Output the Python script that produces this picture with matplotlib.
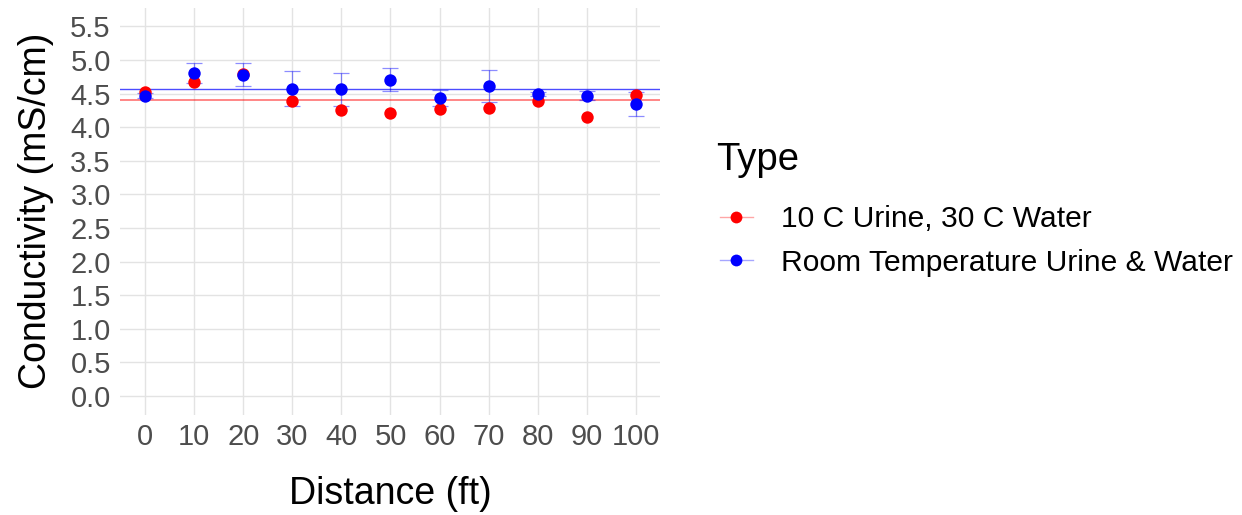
import numpy as np
import matplotlib
matplotlib.use("Agg")
import matplotlib.pyplot as plt
from matplotlib.lines import Line2D

plt.rcParams['font.family'] = ['Liberation Sans', 'DejaVu Sans']

# data
distance = [0, 10, 20, 30, 40, 50, 60, 70, 80, 90, 100]
cold_urine = [4.52, 4.68, 4.80, 4.395, 4.25, 4.21, 4.275, 4.285, 4.385, 4.15, 4.485]
room_temp = [4.47, 4.81, 4.785, 4.575, 4.565, 4.71, 4.44, 4.615, 4.49, 4.47, 4.35]
room_temp_err = [0.04, 0.15, 0.165, 0.26, 0.245, 0.17, 0.12, 0.24, 0.03, 0.07, 0.175]
labels = ["10 C Urine, 30 C Water", "Room Temperature Urine & Water"]
colors = ["#FF0000", "#0000FF"]
y_ticks = np.arange(0, 5.51, 0.5)

fig = plt.figure(figsize=(12.42, 5.15), dpi=100)
ax = fig.add_axes([0.097, 0.195, 0.4348, 0.7895])

# horizontal mean lines
ax.axhline(np.mean(cold_urine), color=colors[0], alpha=0.6, lw=1.1, zorder=2)
ax.axhline(np.mean(room_temp), color=colors[1], alpha=0.7, lw=1.0, zorder=2)

ax.errorbar(distance, room_temp, yerr=room_temp_err, fmt='none',
            ecolor=(0, 0, 1, 0.45), elinewidth=0.9, capsize=5.5, capthick=0.9, zorder=3)

ax.scatter(distance, cold_urine, s=80, color=colors[0], zorder=4, linewidths=0)
ax.scatter(distance, room_temp, s=80, color=colors[1], zorder=5, linewidths=0)

ax.set_xlim(-5, 105)
ax.set_ylim(-0.275, 5.775)
ax.set_xticks(distance)
ax.set_yticks(y_ticks)
ax.set_yticklabels([f"{v:.1f}" for v in y_ticks])

ax.grid(True, color="#E3E3E3", lw=1.0, zorder=0)
ax.set_axisbelow(True)
for s in ax.spines.values():
    s.set_visible(False)
ax.tick_params(length=0, labelsize=21, colors="#4D4D4D")
ax.tick_params(axis='y', pad=7)
ax.tick_params(axis='x', pad=6)

ax.set_xlabel("Distance (ft)", fontsize=27, labelpad=18)
ax.set_ylabel("Conductivity (mS/cm)", fontsize=27, labelpad=12)

# legend (title drawn separately for spacing control)
fig.text(716 / 1242, 1 - 160 / 515, "Type", fontsize=27.5, ha='left', va='center')
handles = [Line2D([0], [0], color=c, lw=1, marker='o', markersize=8.5,
                  markerfacecolor=c, markeredgewidth=0)
           for c in colors]
leg = fig.legend(handles, labels, loc='center left', bbox_to_anchor=(0.5795, 1 - 241 / 515),
                 frameon=False, fontsize=21.6,
                 handlelength=1.1, handletextpad=0.95, labelspacing=0.53,
                 borderaxespad=0, borderpad=0)
for line in leg.get_lines():
    c = line.get_markerfacecolor()
    line.set_color(matplotlib.colors.to_rgba(c, 0.35))
    line.set_markerfacecolor(c)

fig.savefig("out.png", dpi=100)
